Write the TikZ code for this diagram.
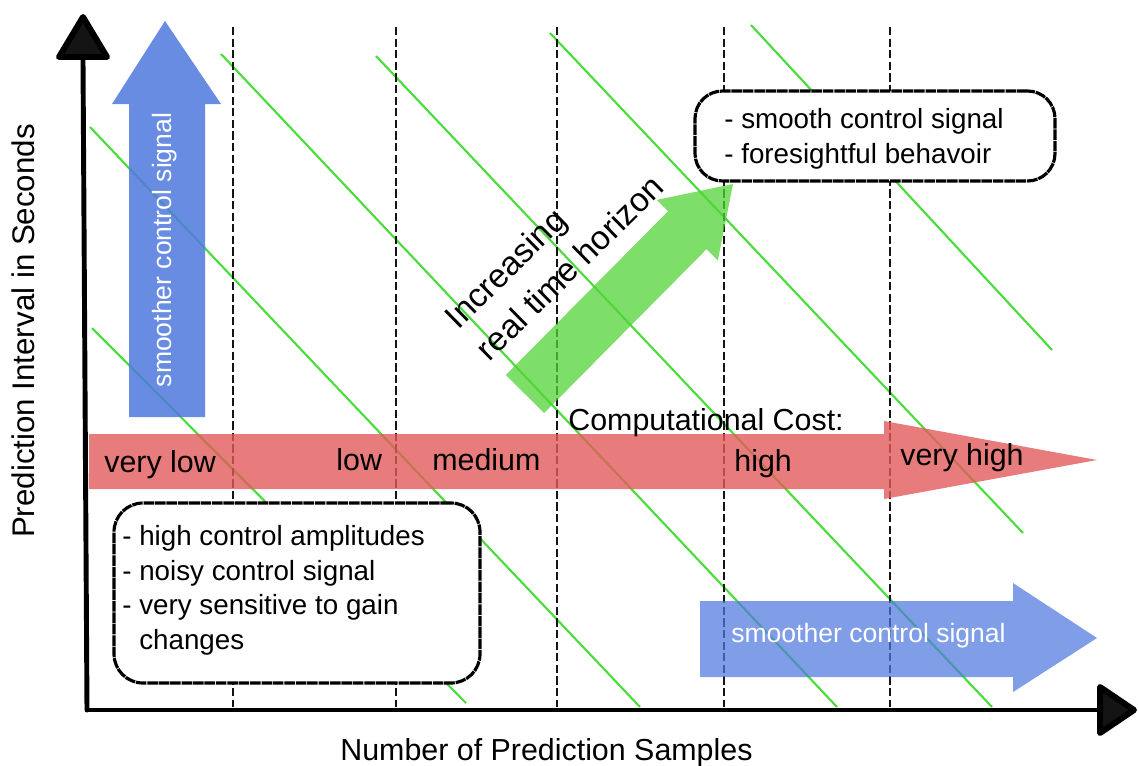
\documentclass[tikz,border=0pt]{standalone}
\usepackage{fontspec}
\setmainfont{Liberation Sans}
\definecolor{lgreen}{HTML}{48DD38}
\definecolor{bluebase}{HTML}{4F78DE}
\definecolor{redbase}{HTML}{E25A5A}
\definecolor{greenbase}{HTML}{53D338}
\begin{document}
\begin{tikzpicture}[x=0.02cm,y=-0.02cm,
  gline/.style={draw=lgreen,line width=1.2pt},
  vdash/.style={draw=black!92,line width=1.5pt,dash pattern=on 4.7pt off 1.9pt},
  note/.style={draw=black,line width=1.8pt,dash pattern=on 6pt off 0.5pt,rounded corners=0.58cm,fill=white,inner sep=0pt},
  lbl/.style={inner sep=0pt,anchor=base west,font=\fontsize{17.3}{20}\selectfont},
  notetext/.style={inner sep=0pt,anchor=north west,align=left,font=\fontsize{15.8}{19.7}\selectfont},
  axis/.style={draw=black,line cap=round},
  axtip/.style={fill=black!92,draw=black,line width=3.4pt,line join=round},
  barrow/.style={fill=bluebase},
  wtext/.style={text=white,inner sep=0pt,font=\fontsize{15.1}{18}\selectfont},
]
\useasboundingbox (0,0) rectangle (1139,765);

% green diagonal lines
\draw[gline] (90,127) -- (640,707);
\draw[gline] (92,328) -- (466,703);
\draw[gline] (221,54) -- (837,707);
\draw[gline] (376,56) -- (992,707);
\draw[gline] (550,33) -- (1023,533);
\draw[gline] (751,25) -- (1052,350);

% dashed vertical separators
\foreach \x in {233,396,557,724,890}
  \draw[vdash] (\x,27) -- (\x,707);

% blue vertical arrow
\path[barrow,fill opacity=0.85] (129,417) -- (205,417) -- (205,104) -- (221,104) -- (165,21) -- (112,104) -- (129,104) -- cycle;
\node[wtext,rotate=90] (vsig) at (165,250) {smoother control signal};

% red cost arrow
\path[fill=redbase,fill opacity=0.8] (89,434) -- (884,434) -- (884,421) -- (1097,460) -- (884,499) -- (884,489) -- (89,489) -- cycle;

% blue horizontal arrow
\path[barrow,fill opacity=0.72] (700,601) -- (1013,601) -- (1013,583) -- (1097,638) -- (1013,692) -- (1013,677) -- (700,677) -- cycle;
\node[wtext,anchor=west] (hsig) at (731,636) {smoother control signal};

% green diagonal arrow
\path[fill=greenbase,fill opacity=0.75] (544.2,413.0) -- (505.8,375.0) -- (668.1,211.2) -- (656.8,199.9) -- (733,184) -- (717.8,260.5) -- (706.5,249.2) -- cycle;
\node[inner sep=0pt,anchor=north west,align=left,rotate=44.5,font=\fontsize{19}{25.5}\selectfont] (horizon) at (441,313) {Increasing\\real time horizon};

% note boxes
\node[note,minimum width=366*0.02cm,minimum height=180*0.02cm] (box1) at (297,593) {};
\node[notetext] (box1txt) at (122,525) {- high control amplitudes\\- noisy control signal\\- very sensitive to gain\\\phantom{- }changes};
\node[note,minimum width=360*0.02cm,minimum height=90*0.02cm,rounded corners=0.55cm] (box2) at (875,136) {};
\node[notetext] (box2txt) at (724,108) {- smooth control signal\\- foresightful behavoir};

% cost labels
\node[lbl] (vlow) at (104,472) {very low};
\node[lbl] (low) at (336,470) {low};
\node[lbl] (med) at (432,470) {medium};
\node[lbl] (high) at (734,471) {high};
\node[lbl] (vhigh) at (900,465) {very high};
\node[lbl] (cost) at (568,430) {Computational Cost:};

% axes
\coordinate (O) at (87,710);
\coordinate (ytip) at (83,60);
\coordinate (xtip) at (1097,710);
\draw[axis,line width=2.8pt] (O) -- (ytip);
\draw[axis,line width=2.3pt] (O) -- (xtip);
\path[axtip] (59,57) -- (107,57) -- (83,17) -- cycle;
\path[axtip] (1100,687) -- (1100,733) -- (1134,710) -- cycle;

\node[lbl] (xlab) at (340,760) {Number of Prediction Samples};
\node[inner sep=0pt,rotate=90,font=\fontsize{17.8}{20}\selectfont] (ylab) at (23,331) {Prediction Interval in Seconds};
\end{tikzpicture}
\end{document}
